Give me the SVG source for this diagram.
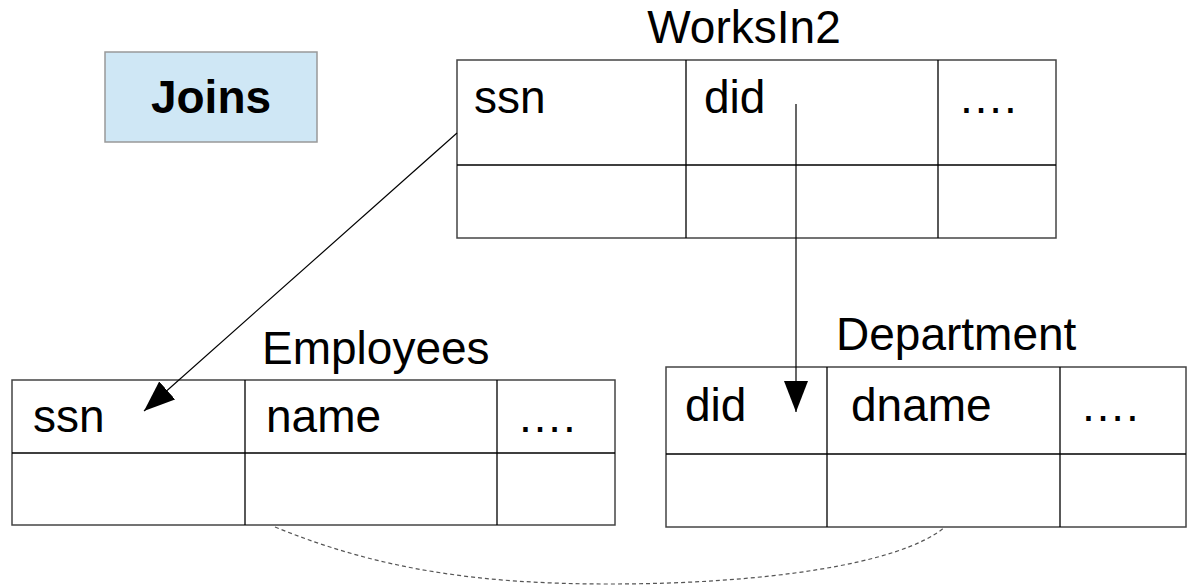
<svg xmlns="http://www.w3.org/2000/svg" width="1197" height="586" viewBox="0 0 1197 586">
  <style>
    .t { font-family: "Liberation Sans", Arial, sans-serif; font-size: 46px; fill: #000; }
    .b { font-weight: bold; }
    .frame { fill: #fff; stroke: #444; stroke-width: 1.5; }
    .grid { stroke: #000; stroke-width: 1.3; fill: none; }
    .link { stroke: #000; stroke-width: 1.2; fill: none; }
    .join { stroke: #555; stroke-width: 1.2; fill: none; stroke-dasharray: 4 3; }
  </style>
  <defs>
    <marker id="head" viewBox="0 0 31 24" refX="31" refY="12" markerWidth="31" markerHeight="24" markerUnits="userSpaceOnUse" orient="auto">
      <path d="M0,0 L31,12 L0,24 Z" fill="#000"/>
    </marker>
  </defs>

  <rect width="1197" height="586" fill="#fff"/>

  <g id="title">
    <rect x="105" y="52" width="212" height="90" fill="#cfe7f5" stroke="#999" stroke-width="1.5"/>
    <text class="t b" x="211" y="113" text-anchor="middle">Joins</text>
  </g>

  <g id="worksin2">
    <text class="t" x="744" y="43" text-anchor="middle">WorksIn2</text>
    <rect class="frame" x="457" y="60" width="599" height="178"/>
    <path class="grid" d="M457,165 H1056 M686,60 V238 M938,60 V238"/>
    <text class="t" x="474" y="113">ssn</text>
    <text class="t" x="704" y="113">did</text>
    <text class="t" x="958" y="113">….</text>
  </g>

  <g id="employees">
    <text class="t" x="262" y="364">Employees</text>
    <rect class="frame" x="12" y="380" width="603" height="145"/>
    <path class="grid" d="M12,453 H615 M245,380 V525 M497,380 V525"/>
    <text class="t" x="33" y="432">ssn</text>
    <text class="t" x="266" y="432">name</text>
    <text class="t" x="517" y="432">….</text>
  </g>

  <g id="department">
    <text class="t" x="836" y="350">Department</text>
    <rect class="frame" x="666" y="367" width="520" height="160"/>
    <path class="grid" d="M666,454 H1186 M827,367 V527 M1060,367 V527"/>
    <text class="t" x="685" y="421">did</text>
    <text class="t" x="851" y="421">dname</text>
    <text class="t" x="1080" y="421">….</text>
  </g>

  <g id="connectors">
    <line class="link" x1="457" y1="133" x2="144" y2="411" marker-end="url(#head)"/>
    <line class="link" x1="796" y1="104" x2="796" y2="412" marker-end="url(#head)"/>
    <path class="join" d="M275,527 C380,570 480,584 610,584 C760,584 900,565 945,527"/>
  </g>
</svg>
